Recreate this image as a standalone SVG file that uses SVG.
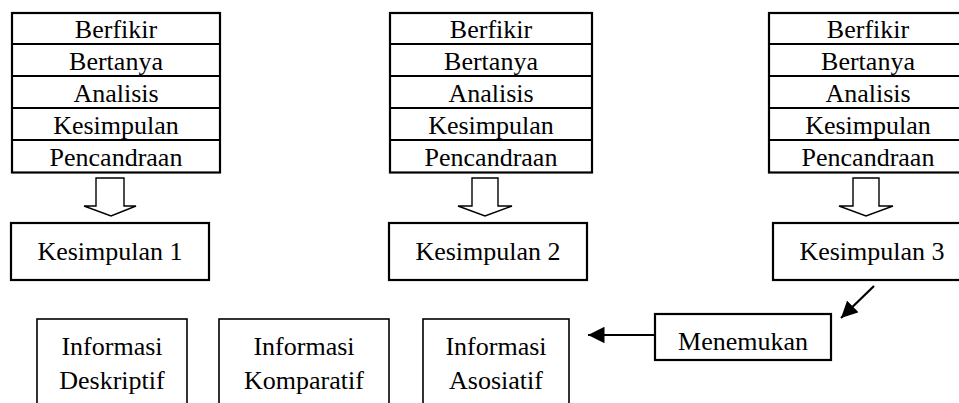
<svg xmlns="http://www.w3.org/2000/svg" width="959" height="403" viewBox="0 0 959 403">
<style>
text{font-family:'Liberation Serif',serif;font-size:26px;fill:#000;text-anchor:middle}
.b{fill:#fff;stroke:#000;stroke-width:2.2}
.t{fill:#fff;stroke:#000;stroke-width:1.6}
.ln{stroke:#000;stroke-width:2.2}
.ba{fill:#fff;stroke:#000;stroke-width:1.4;stroke-linejoin:miter}
.c{stroke:#000;stroke-width:2.2;fill:none}
</style>
<defs>
<marker id="ah" viewBox="0 0 10 10" refX="10" refY="5" markerWidth="7.5" markerHeight="7.5" orient="auto" markerUnits="strokeWidth">
<path d="M0,0 L10,5 L0,10 z" fill="#000"/>
</marker>
</defs>
<g id="stack1">
<rect class="b" x="12" y="13" width="208" height="159.5"/>
<line class="ln" x1="12" y1="44" x2="220" y2="44"/>
<line class="ln" x1="12" y1="76" x2="220" y2="76"/>
<line class="ln" x1="12" y1="108" x2="220" y2="108"/>
<line class="ln" x1="12" y1="140" x2="220" y2="140"/>
<text x="116" y="38">Berfikir</text>
<text x="116" y="70">Bertanya</text>
<text x="116" y="102">Analisis</text>
<text x="116" y="134">Kesimpulan</text>
<text x="116" y="166">Pencandraan</text>
</g>
<g id="stack2">
<rect class="b" x="390" y="13" width="202" height="159.5"/>
<line class="ln" x1="390" y1="44" x2="592" y2="44"/>
<line class="ln" x1="390" y1="76" x2="592" y2="76"/>
<line class="ln" x1="390" y1="108" x2="592" y2="108"/>
<line class="ln" x1="390" y1="140" x2="592" y2="140"/>
<text x="491" y="38">Berfikir</text>
<text x="491" y="70">Bertanya</text>
<text x="491" y="102">Analisis</text>
<text x="491" y="134">Kesimpulan</text>
<text x="491" y="166">Pencandraan</text>
</g>
<g id="stack3">
<rect class="b" x="769" y="13" width="208" height="159.5"/>
<line class="ln" x1="769" y1="44" x2="977" y2="44"/>
<line class="ln" x1="769" y1="76" x2="977" y2="76"/>
<line class="ln" x1="769" y1="108" x2="977" y2="108"/>
<line class="ln" x1="769" y1="140" x2="977" y2="140"/>
<text x="868" y="38">Berfikir</text>
<text x="868" y="70">Bertanya</text>
<text x="868" y="102">Analisis</text>
<text x="868" y="134">Kesimpulan</text>
<text x="868" y="166">Pencandraan</text>
</g>
<g id="kesimpulan1">
<rect class="b" x="11" y="223" width="198" height="57"/>
<text x="110" y="260">Kesimpulan 1</text>
</g>
<g id="kesimpulan2">
<rect class="b" x="389" y="223" width="198" height="57"/>
<text x="488" y="260">Kesimpulan 2</text>
</g>
<g id="kesimpulan3">
<rect class="b" x="773" y="223" width="198" height="57"/>
<text x="872" y="260">Kesimpulan 3</text>
</g>
<g id="menemukan">
<rect class="b" x="655" y="314" width="176" height="46"/>
<text x="743" y="350">Menemukan</text>
</g>
<g id="info-deskriptif">
<rect class="t" x="37" y="319" width="150" height="100"/>
<text x="112" y="355">Informasi</text>
<text x="112" y="389">Deskriptif</text>
</g>
<g id="info-komparatif">
<rect class="t" x="219" y="319" width="170" height="100"/>
<text x="304" y="355">Informasi</text>
<text x="304" y="389">Komparatif</text>
</g>
<g id="info-asosiatif">
<rect class="t" x="423" y="319" width="146" height="100"/>
<text x="496" y="355">Informasi</text>
<text x="496" y="389">Asosiatif</text>
</g>
<g id="connectors">
<path class="ba" d="M96,178 H124 V206 H136 L111,216 L84,206 H96 Z"/>
<path class="ba" d="M472,178 H498 V206 H512 L485,216 L458,206 H472 Z"/>
<path class="ba" d="M853,178 H879 V206 H893 L866,216 L839,206 H853 Z"/>
<line class="c" x1="874" y1="286" x2="841" y2="318" marker-end="url(#ah)"/>
<line class="c" x1="655" y1="335" x2="588" y2="335" marker-end="url(#ah)"/>
</g>
</svg>
